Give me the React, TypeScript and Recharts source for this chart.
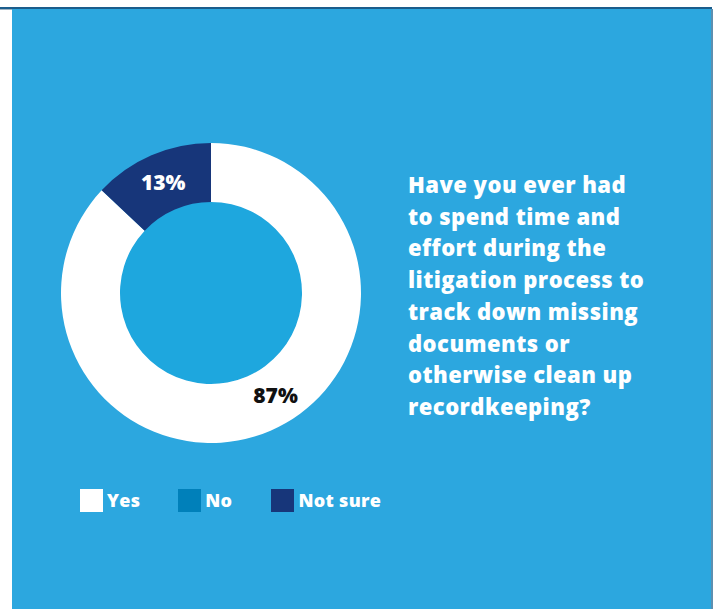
import { Legend, Pie, PieChart, Cell } from "recharts";

const categories = ["Yes", "No", "Not sure"];
const shares = [87, 0, 13];
const colors = ["#ffffff", "#0080ba", "#17367a"];
const labelColors = ["#111111", "#ffffff", "#ffffff"];
const question = [
  "Have you ever had",
  "to spend time and",
  "effort during the",
  "litigation process to",
  "track down missing",
  "documents or",
  "otherwise clean up",
  "recordkeeping?",
];

const FONT = "'Open Sans', 'Noto Sans', sans-serif";
const PANEL = "#2ca7df";
const HOLE = "#1ea7de";

const data = categories.map((name, i) => ({ name, value: shares[i] }));

const RADIAN = Math.PI / 180;

// the big slice label sits a bit off its mid angle in the original
const LABEL_SHIFT = [9, 0, 0];

function SliceLabel(props: any) {
  const { cx, cy, innerRadius, outerRadius, midAngle, index, value } = props;
  if (!value) return null;
  const r = (innerRadius + outerRadius) / 2;
  const a = (midAngle + LABEL_SHIFT[index]) * RADIAN;
  const x = cx + r * Math.cos(a);
  const y = cy - r * Math.sin(a);
  return (
    <text
      x={x}
      y={y}
      fill={labelColors[index]}
      textAnchor="middle"
      dominantBaseline="central"
      fontFamily={FONT}
      fontWeight={800}
      fontSize={21}
    >
      {`${value}%`}
    </text>
  );
}

function LegendBox() {
  return (
    <div style={{ display: "flex", alignItems: "center", fontFamily: FONT }}>
      {categories.map((c, i) => (
        <div
          key={c}
          style={{ display: "flex", alignItems: "center", marginRight: i === 0 ? 38 : 39 }}
        >
          <span
            style={{
              display: "inline-block",
              width: 23,
              height: 23,
              background: colors[i],
              marginRight: 4,
            }}
          />
          <span style={{ color: "#fff", fontWeight: 800, fontSize: 18, letterSpacing: 0.3 }}>{c}</span>
        </div>
      ))}
    </div>
  );
}

export default function App() {
  return (
    <div
      style={{
        position: "absolute",
        left: 0,
        top: 0,
        width: 715,
        height: 609,
        background: "#ffffff",
        overflow: "hidden",
      }}
    >
      <div style={{ position: "absolute", left: 0, top: 9, width: 12, height: 1, background: "#9fb3c2" }} />
      <div style={{ position: "absolute", left: 0, top: 7, width: 712, height: 2, background: "#1b5d8c" }} />
      <div
        style={{
          position: "absolute",
          left: 12,
          top: 9,
          width: 699,
          height: 600,
          background: PANEL,
          borderRight: "2px solid #5d8fb0",
        }}
      />
      <div
        style={{
          position: "absolute",
          left: 120,
          top: 202,
          width: 182,
          height: 182,
          borderRadius: "50%",
          background: HOLE,
        }}
      />
      <div style={{ position: "absolute", left: 0, top: 0 }}>
        <PieChart width={715} height={609} margin={{ top: 0, right: 0, bottom: 0, left: 0 }}>
          <Pie
            data={data}
            dataKey="value"
            nameKey="name"
            cx={211}
            cy={293}
            innerRadius={91}
            outerRadius={150}
            startAngle={90}
            endAngle={-270}
            stroke="none"
            label={SliceLabel}
            labelLine={false}
            isAnimationActive={false}
          >
            {data.map((d, i) => (
              <Cell key={d.name} fill={colors[i]} />
            ))}
          </Pie>
          <Legend
            content={() => <LegendBox />}
            wrapperStyle={{ position: "absolute", left: 80, top: 488, width: 400 }}
          />
        </PieChart>
      </div>
      <div
        style={{
          position: "absolute",
          left: 408,
          top: 169,
          fontFamily: FONT,
          fontWeight: 800,
          fontSize: 22,
          letterSpacing: 0.45,
          lineHeight: "31.7px",
          color: "#ffffff",
          whiteSpace: "nowrap",
        }}
      >
        {question.map((line) => (
          <div key={line}>{line}</div>
        ))}
      </div>
    </div>
  );
}
